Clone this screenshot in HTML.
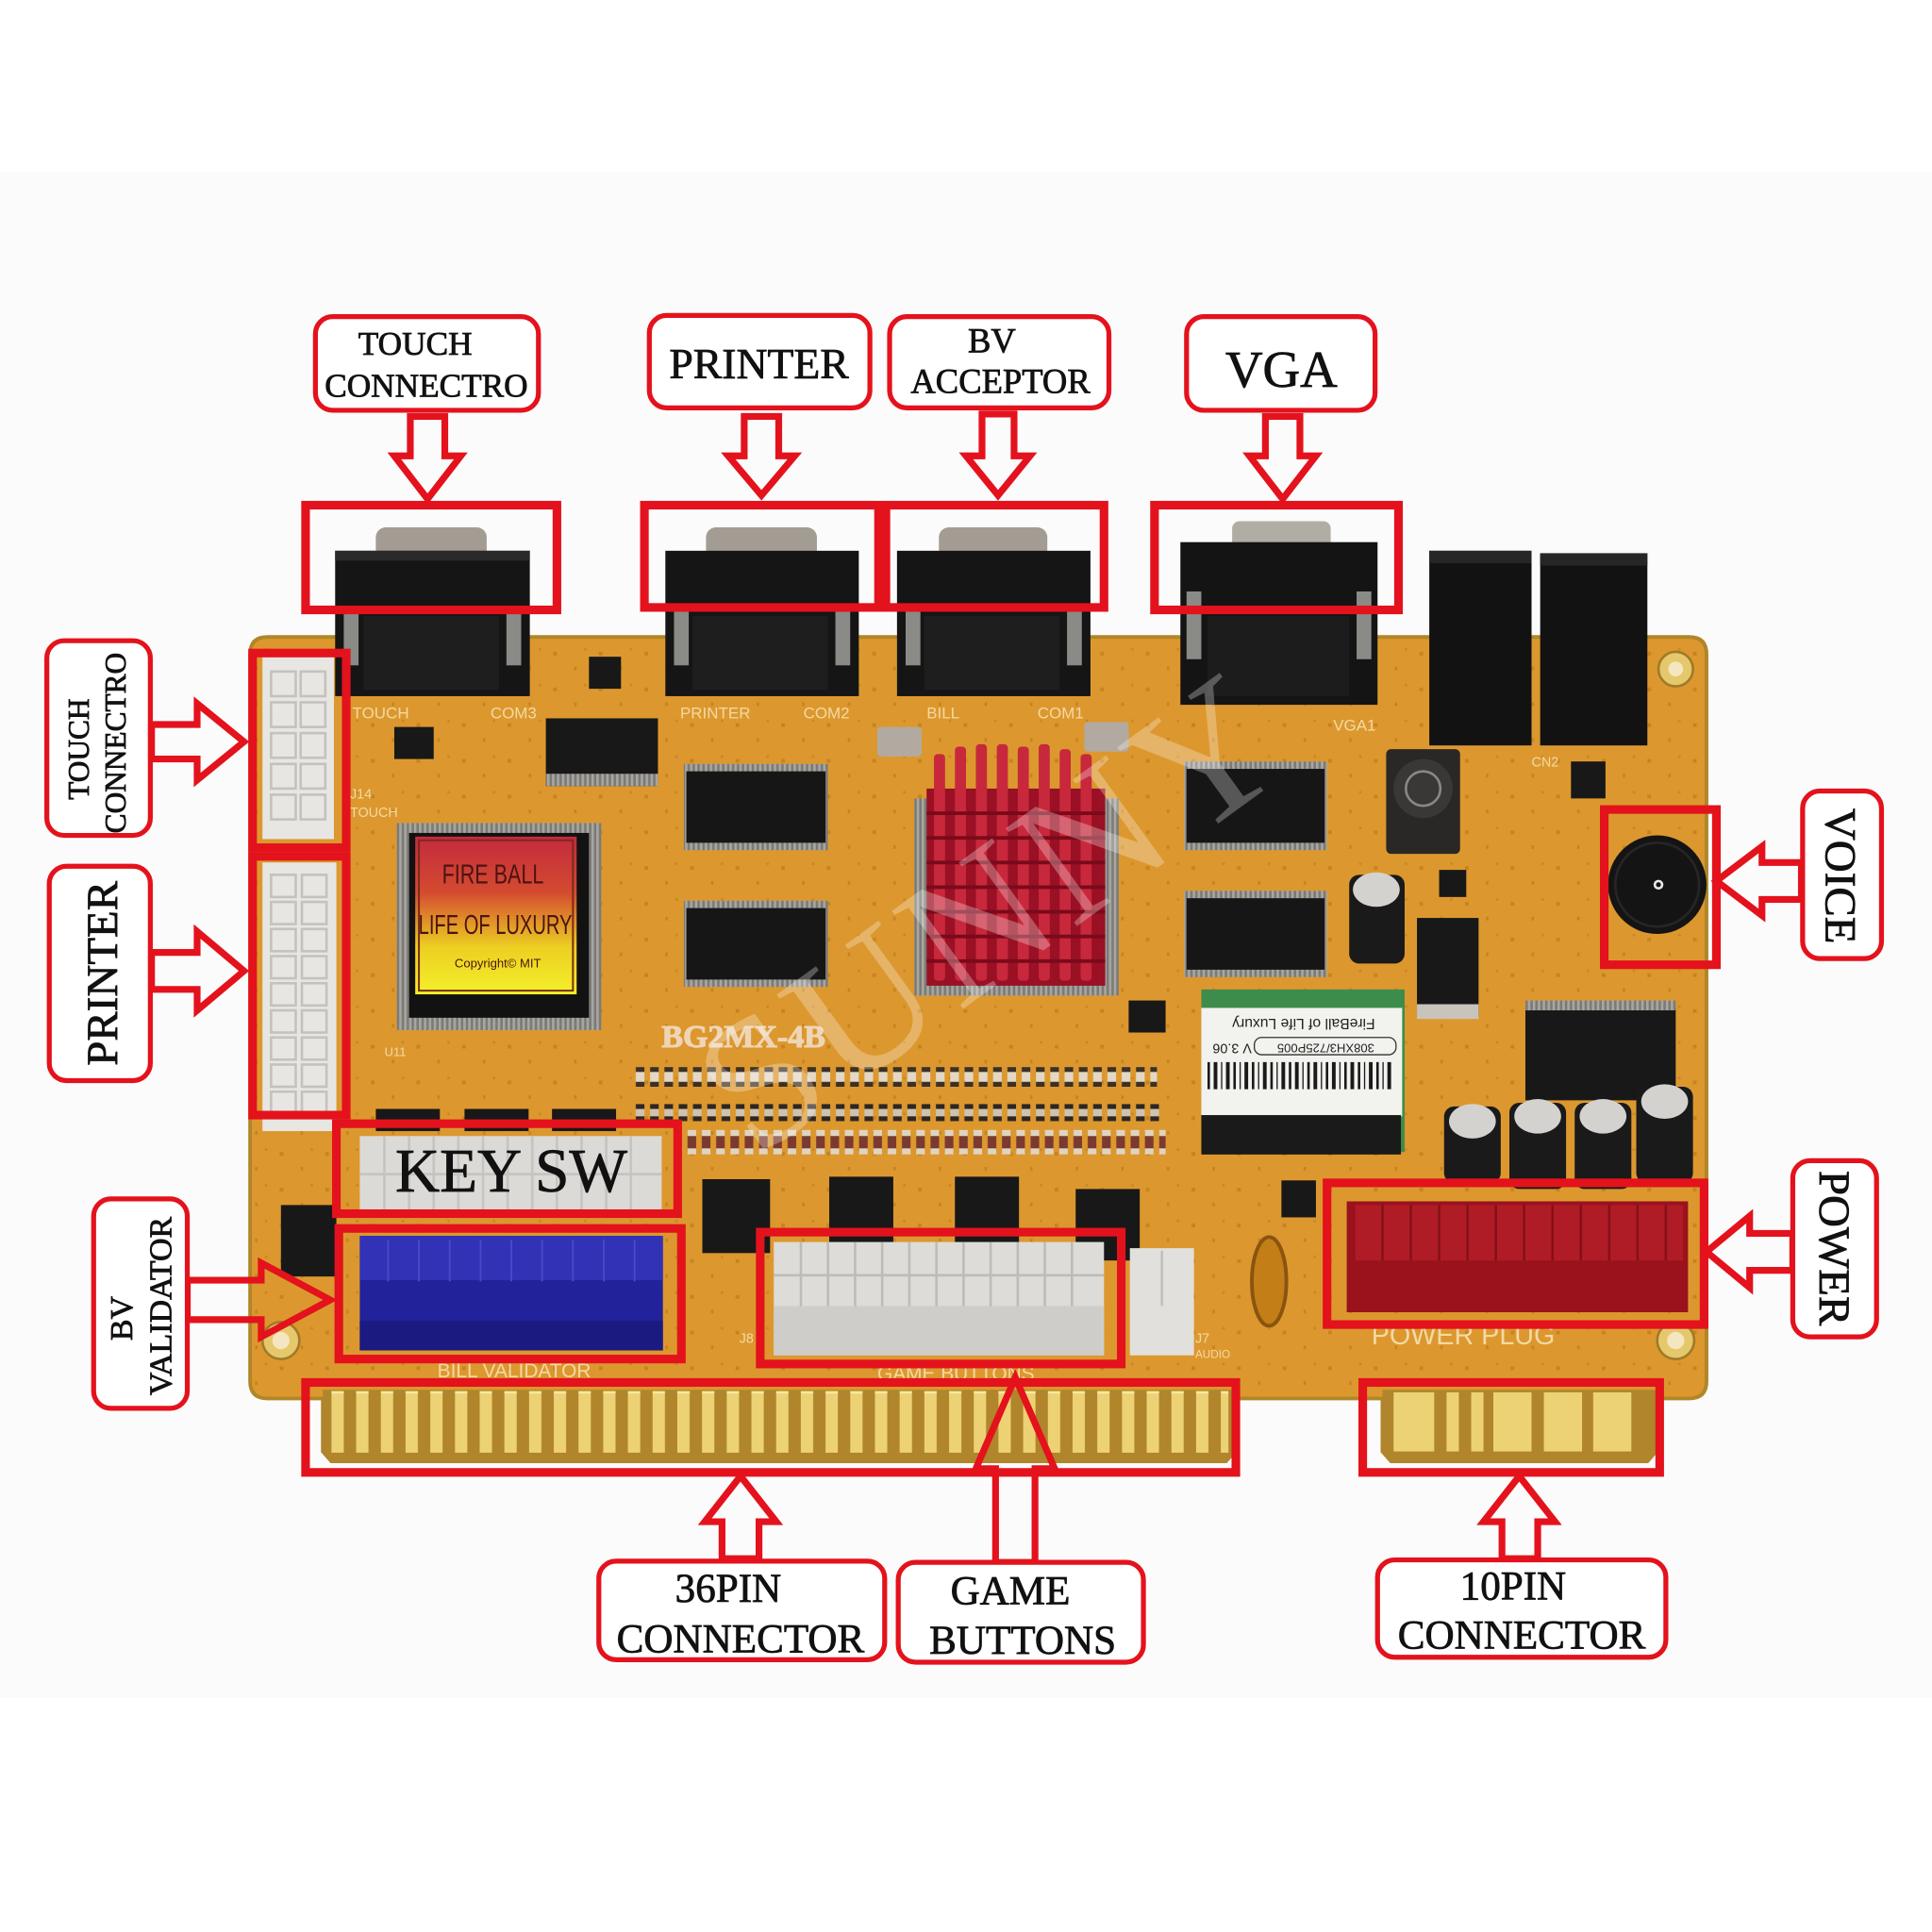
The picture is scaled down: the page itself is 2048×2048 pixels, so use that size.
<!DOCTYPE html>
<html><head><meta charset="utf-8"><style>
html,body{margin:0;padding:0;background:#fff;}
svg{display:block;}
</style></head><body>
<svg xmlns="http://www.w3.org/2000/svg" width="2048" height="2048" viewBox="0 0 1568 1568" font-family="'Liberation Serif', serif">
<defs>
<linearGradient id="lbl" x1="0" y1="0" x2="0" y2="1">
<stop offset="0" stop-color="#c42a3e"/><stop offset="0.35" stop-color="#d44a30"/><stop offset="0.7" stop-color="#eccf22"/><stop offset="1" stop-color="#f4f02a"/>
</linearGradient>
<pattern id="fing" x="266" y="1129" width="20.05" height="60" patternUnits="userSpaceOnUse">
<rect x="3" y="0" width="10" height="50" fill="#ecd274"/><rect x="3" y="0" width="10" height="2" fill="#f8e8a0"/>
</pattern>
<pattern id="res1" x="514" y="866" width="11.6" height="40" patternUnits="userSpaceOnUse">
<rect x="2" y="0" width="7" height="16" rx="2" fill="#e4d8c4"/><rect x="2" y="0" width="7" height="4" fill="#3c3026"/><rect x="2" y="12" width="7" height="4" fill="#3c3026"/>
</pattern>
<pattern id="res2" x="514" y="896" width="11.6" height="40" patternUnits="userSpaceOnUse">
<rect x="2" y="0" width="7" height="14" rx="2" fill="#cfc3b0"/><rect x="2" y="0" width="7" height="4" fill="#2e2620"/><rect x="2" y="10" width="7" height="4" fill="#2e2620"/>
</pattern>
<pattern id="res3" x="556" y="917" width="11.6" height="40" patternUnits="userSpaceOnUse">
<rect x="2" y="0" width="7" height="20" rx="2" fill="#7a3a30"/><rect x="2" y="0" width="7" height="5" fill="#e0d4c0"/><rect x="2" y="15" width="7" height="5" fill="#e0d4c0"/>
</pattern>
<pattern id="pins" x="0" y="0" width="4" height="4" patternUnits="userSpaceOnUse">
<rect width="4" height="4" fill="#7c7a76"/><rect width="2" height="4" fill="#a8a6a0"/>
</pattern>
<pattern id="specks" x="0" y="0" width="37" height="29" patternUnits="userSpaceOnUse">
<rect x="5" y="7" width="3" height="3" fill="#b87418" opacity="0.6"/><rect x="22" y="19" width="2" height="3" fill="#b87418" opacity="0.6"/><rect x="30" y="4" width="2" height="2" fill="#b87418" opacity="0.5"/>
</pattern>
</defs>

<rect x="0" y="0" width="1568" height="1568" fill="#ffffff"/>
<rect x="0" y="140" width="1568" height="1238" fill="#fbfbfb"/>

<path d="M217 517 H1371 Q1385 517 1385 531 V1121 Q1385 1135 1371 1135 H1344 V1178 L1337 1186 H1129 L1122 1178 V1135 H1002 V1178 L995 1186 H269 L262 1178 V1135 H217 Q203 1135 203 1121 V531 Q203 517 217 517 Z" fill="#dc982e" stroke="#b08628" stroke-width="3"/>
<rect x="205" y="519" width="1178" height="614" fill="url(#specks)"/>
<path d="M262 1128 H1002 V1178 L995 1186 H269 L262 1178 Z" fill="#b0852c"/>
<rect x="262" y="1128" width="735" height="56" fill="url(#fing)"/>
<path d="M1122 1128 H1344 V1178 L1337 1186 H1129 L1122 1178 Z" fill="#b0852c"/>
<rect x="1131" y="1130" width="33" height="48" fill="#ecd274"/>
<rect x="1174" y="1130" width="10" height="48" fill="#ecd274"/>
<rect x="1194" y="1130" width="10" height="48" fill="#ecd274"/>
<rect x="1212" y="1130" width="31" height="48" fill="#ecd274"/>
<rect x="1253" y="1130" width="31" height="48" fill="#ecd274"/>
<rect x="1293" y="1130" width="31" height="48" fill="#ecd274"/>

<circle cx="1360" cy="543" r="14" fill="#e6c86c" stroke="#a07a28" stroke-width="2"/><circle cx="1360" cy="543" r="6" fill="#f4e6c0"/>
<circle cx="1360" cy="1088" r="15" fill="#e6c86c" stroke="#a07a28" stroke-width="2"/><circle cx="1360" cy="1088" r="7" fill="#f4e6c0"/>
<circle cx="228" cy="1088" r="15" fill="#e6c86c" stroke="#a07a28" stroke-width="2"/><circle cx="228" cy="1088" r="7" fill="#f4e6c0"/>

<g>
<rect x="305" y="428" width="90" height="26" rx="8" fill="#a29c92"/>
<rect x="272" y="447" width="158" height="118" fill="#151515"/>
<rect x="272" y="447" width="158" height="8" fill="#2a2a2a"/>
<rect x="279" y="495" width="12" height="45" fill="#8a8a86"/><rect x="411" y="495" width="12" height="45" fill="#8a8a86"/>
<rect x="295" y="500" width="110" height="60" fill="#1e1e1e"/>

<rect x="573" y="428" width="90" height="26" rx="8" fill="#a29c92"/>
<rect x="540" y="447" width="157" height="118" fill="#151515"/>
<rect x="547" y="495" width="12" height="45" fill="#8a8a86"/><rect x="678" y="495" width="12" height="45" fill="#8a8a86"/>
<rect x="562" y="500" width="110" height="60" fill="#1e1e1e"/>

<rect x="762" y="428" width="88" height="26" rx="8" fill="#a29c92"/>
<rect x="728" y="447" width="157" height="118" fill="#151515"/>
<rect x="735" y="495" width="12" height="45" fill="#8a8a86"/><rect x="866" y="495" width="12" height="45" fill="#8a8a86"/>
<rect x="750" y="500" width="110" height="60" fill="#1e1e1e"/>

<rect x="1000" y="423" width="80" height="26" rx="6" fill="#b2ada4"/>
<rect x="958" y="440" width="160" height="132" fill="#141414"/>
<rect x="963" y="480" width="12" height="55" fill="#8a8a86"/><rect x="1101" y="480" width="12" height="55" fill="#8a8a86"/>
<rect x="980" y="500" width="115" height="65" fill="#1c1c1c"/>
</g>

<rect x="1160" y="447" width="83" height="158" fill="#121212"/>
<rect x="1160" y="447" width="83" height="10" fill="#262626"/>
<rect x="1250" y="449" width="87" height="156" fill="#121212"/>
<rect x="1250" y="449" width="87" height="10" fill="#262626"/>

<g fill="#f3d9a4" font-family="'Liberation Sans', sans-serif" font-size="13">
<text x="286" y="583">TOUCH</text><text x="398" y="583">COM3</text>
<text x="552" y="583">PRINTER</text><text x="652" y="583">COM2</text>
<text x="752" y="583">BILL</text><text x="842" y="583">COM1</text>
<text x="1082" y="593">VGA1</text>
<text x="284" y="648" font-size="11">J14</text><text x="284" y="663" font-size="11">TOUCH</text>
<text x="312" y="857" font-size="10">U11</text>
<text x="1243" y="622" font-size="11">CN2</text>
<text x="600" y="1090" font-size="11">J8</text>
<text x="970" y="1090" font-size="11">J7</text><text x="970" y="1102" font-size="9">AUDIO</text>
<text x="1113" y="1091" font-size="22">POWER  PLUG</text>
<text x="355" y="1118" font-size="16">BILL  VALIDATOR</text>
<text x="712" y="1120" font-size="16">GAME  BUTTONS</text>
</g>

<rect x="213" y="533" width="58" height="148" fill="#e8e6e2"/>
<g stroke="#c4c2bd" stroke-width="2" fill="none">
<rect x="220" y="545" width="20" height="20"/><rect x="244" y="545" width="20" height="20"/>
<rect x="220" y="570" width="20" height="20"/><rect x="244" y="570" width="20" height="20"/>
<rect x="220" y="595" width="20" height="20"/><rect x="244" y="595" width="20" height="20"/>
<rect x="220" y="620" width="20" height="20"/><rect x="244" y="620" width="20" height="20"/>
<rect x="220" y="645" width="20" height="20"/><rect x="244" y="645" width="20" height="20"/>
</g>
<rect x="213" y="700" width="60" height="218" fill="#e8e6e2"/>
<g stroke="#c4c2bd" stroke-width="2" fill="none">
<rect x="220" y="710" width="20" height="18"/><rect x="245" y="710" width="20" height="18"/>
<rect x="220" y="732" width="20" height="18"/><rect x="245" y="732" width="20" height="18"/>
<rect x="220" y="754" width="20" height="18"/><rect x="245" y="754" width="20" height="18"/>
<rect x="220" y="776" width="20" height="18"/><rect x="245" y="776" width="20" height="18"/>
<rect x="220" y="798" width="20" height="18"/><rect x="245" y="798" width="20" height="18"/>
<rect x="220" y="820" width="20" height="18"/><rect x="245" y="820" width="20" height="18"/>
<rect x="220" y="842" width="20" height="18"/><rect x="245" y="842" width="20" height="18"/>
<rect x="220" y="864" width="20" height="18"/><rect x="245" y="864" width="20" height="18"/>
<rect x="220" y="886" width="20" height="18"/><rect x="245" y="886" width="20" height="18"/>
</g>

<g fill="#181818">
<rect x="443" y="583" width="91" height="55"/>
<rect x="320" y="590" width="32" height="26"/>
<rect x="478" y="533" width="26" height="26"/>
<rect x="228" y="978" width="45" height="58"/>
<rect x="1275" y="618" width="28" height="30"/>
<rect x="1040" y="958" width="28" height="30"/>
<rect x="1168" y="706" width="22" height="22"/>
<rect x="916" y="812" width="30" height="26"/>
<rect x="1150" y="745" width="50" height="80"/>
<rect x="1238" y="818" width="122" height="75"/>
<rect x="570" y="957" width="55" height="60"/>
<rect x="673" y="955" width="52" height="60"/>
<rect x="775" y="955" width="52" height="60"/>
<rect x="873" y="965" width="52" height="58"/>
<rect x="305" y="900" width="52" height="18"/><rect x="377" y="900" width="52" height="18"/><rect x="448" y="900" width="52" height="18"/>
</g>
<rect x="443" y="628" width="91" height="10" fill="url(#pins)"/>
<rect x="1238" y="812" width="122" height="8" fill="url(#pins)"/>
<rect x="1150" y="815" width="50" height="12" fill="#c8c4bc"/>

<g>
<rect x="555" y="620" width="117" height="70" fill="url(#pins)"/>
<rect x="557" y="626" width="113" height="58" fill="#161616"/>
<rect x="555" y="731" width="117" height="70" fill="url(#pins)"/>
<rect x="557" y="737" width="113" height="58" fill="#161616"/>
<rect x="961" y="618" width="116" height="72" fill="url(#pins)"/>
<rect x="963" y="624" width="112" height="60" fill="#161616"/>
<rect x="961" y="723" width="116" height="70" fill="url(#pins)"/>
<rect x="963" y="729" width="112" height="58" fill="#161616"/>
</g>
<rect x="712" y="590" width="36" height="24" rx="3" fill="#b2aaa0"/>
<rect x="880" y="586" width="36" height="24" rx="3" fill="#b2aaa0"/>

<rect x="742" y="648" width="166" height="160" fill="url(#pins)"/>
<rect x="752" y="640" width="145" height="160" fill="#9a1024"/>
<g fill="#c8283c">
<rect x="758" y="612" width="9" height="184" rx="3"/><rect x="775" y="606" width="9" height="190" rx="3"/>
<rect x="792" y="604" width="9" height="192" rx="3"/><rect x="809" y="604" width="9" height="192" rx="3"/>
<rect x="826" y="606" width="9" height="190" rx="3"/><rect x="843" y="604" width="9" height="192" rx="3"/>
<rect x="860" y="608" width="9" height="188" rx="3"/><rect x="877" y="612" width="9" height="184" rx="3"/>
</g>
<g stroke="#7a0a1a" stroke-width="3">
<line x1="752" y1="660" x2="897" y2="660"/><line x1="752" y1="680" x2="897" y2="680"/><line x1="752" y1="700" x2="897" y2="700"/>
<line x1="752" y1="720" x2="897" y2="720"/><line x1="752" y1="740" x2="897" y2="740"/><line x1="752" y1="760" x2="897" y2="760"/><line x1="752" y1="780" x2="897" y2="780"/>
</g>

<rect x="322" y="668" width="166" height="168" fill="url(#pins)"/>
<rect x="332" y="676" width="146" height="150" fill="#121212"/>
<rect x="337" y="679" width="131" height="128" fill="url(#lbl)"/>
<rect x="340" y="682" width="125" height="122" fill="none" stroke="#7a2a1a" stroke-width="1.5"/>
<g font-family="'Liberation Sans', sans-serif" fill="#4a1410" text-anchor="middle">
<text x="400" y="717" font-size="22" transform="translate(400 0) scale(0.75 1) translate(-400 0)">FIRE BALL</text>
<text x="402" y="758" font-size="22" transform="translate(402 0) scale(0.7 1) translate(-402 0)">LIFE OF LUXURY</text>
<text x="404" y="785" font-size="10">Copyright© MIT</text>
</g>

<rect x="514" y="866" width="425" height="16" fill="url(#res1)"/>
<rect x="514" y="896" width="430" height="14" fill="url(#res2)"/>
<rect x="556" y="917" width="390" height="20" fill="url(#res3)"/>
<text x="537" y="850" font-size="26" font-weight="bold" fill="#f2dcc6" stroke="#f2dcc6" stroke-width="0.8" opacity="0.9">BG2MX-4B</text>

<rect x="975" y="803" width="165" height="132" fill="#3e8c4c"/>
<rect x="975" y="818" width="163" height="88" fill="#f2f2ee"/>
<rect x="975" y="905" width="162" height="32" fill="#1a1a1a"/>
<g font-family="'Liberation Sans', sans-serif" fill="#222">
<text x="1058" y="835" font-size="12" text-anchor="middle" transform="rotate(180 1058 831)">FireBall of Life Luxury</text>
<text x="1000" y="855" font-size="11" text-anchor="middle" transform="rotate(180 1000 851)">V 3.06</text>
<rect x="1018" y="842" width="115" height="14" rx="6" fill="none" stroke="#333" stroke-width="1"/>
<text x="1076" y="855" font-size="10" text-anchor="middle" transform="rotate(180 1076 851)">308XH3/725P005</text>
</g>
<g fill="#1a1a1a">
<rect x="980" y="862" width="2" height="22"/><rect x="985" y="862" width="3" height="22"/><rect x="991" y="862" width="1" height="22"/><rect x="995" y="862" width="3" height="22"/>
<rect x="1001" y="862" width="2" height="22"/><rect x="1006" y="862" width="1" height="22"/><rect x="1010" y="862" width="3" height="22"/><rect x="1016" y="862" width="2" height="22"/>
<rect x="1021" y="862" width="1" height="22"/><rect x="1025" y="862" width="3" height="22"/><rect x="1031" y="862" width="2" height="22"/><rect x="1036" y="862" width="1" height="22"/>
<rect x="1040" y="862" width="3" height="22"/><rect x="1046" y="862" width="2" height="22"/><rect x="1051" y="862" width="3" height="22"/><rect x="1057" y="862" width="1" height="22"/>
<rect x="1061" y="862" width="2" height="22"/><rect x="1066" y="862" width="3" height="22"/><rect x="1072" y="862" width="1" height="22"/><rect x="1076" y="862" width="2" height="22"/>
<rect x="1081" y="862" width="3" height="22"/><rect x="1087" y="862" width="1" height="22"/><rect x="1091" y="862" width="2" height="22"/><rect x="1096" y="862" width="3" height="22"/>
<rect x="1102" y="862" width="2" height="22"/><rect x="1107" y="862" width="1" height="22"/><rect x="1111" y="862" width="3" height="22"/><rect x="1117" y="862" width="2" height="22"/>
<rect x="1122" y="862" width="1" height="22"/><rect x="1126" y="862" width="3" height="22"/>
</g>

<rect x="1125" y="608" width="60" height="85" rx="4" fill="#2a2826"/>
<circle cx="1155" cy="640" r="24" fill="#3a3836"/><circle cx="1155" cy="640" r="14" fill="none" stroke="#8a8884" stroke-width="2"/>

<g>
<rect x="1095" y="710" width="45" height="72" rx="8" fill="#1a1a1a"/><ellipse cx="1117" cy="722" rx="19" ry="14" fill="#d4d2ce"/>
<rect x="1172" y="898" width="46" height="62" rx="8" fill="#1a1a1a"/><ellipse cx="1195" cy="910" rx="19" ry="14" fill="#d4d2ce"/>
<rect x="1225" y="895" width="46" height="70" rx="8" fill="#1a1a1a"/><ellipse cx="1248" cy="906" rx="19" ry="14" fill="#d4d2ce"/>
<rect x="1278" y="895" width="46" height="70" rx="8" fill="#1a1a1a"/><ellipse cx="1301" cy="906" rx="19" ry="14" fill="#d4d2ce"/>
<rect x="1328" y="882" width="46" height="78" rx="8" fill="#1a1a1a"/><ellipse cx="1351" cy="894" rx="19" ry="14" fill="#d4d2ce"/>
</g>

<circle cx="1345" cy="718" r="40" fill="#141414"/>
<circle cx="1345" cy="718" r="34" fill="none" stroke="#262626" stroke-width="2"/>
<circle cx="1346" cy="718" r="4" fill="#e8e8e8"/><circle cx="1346" cy="718" r="2" fill="#141414"/>

<ellipse cx="1030" cy="1040" rx="14" ry="36" fill="#c47e18" stroke="#8a5410" stroke-width="3"/>

<rect x="292" y="922" width="245" height="63" fill="#dcdad6"/>
<g stroke="#c6c4c0" stroke-width="2" fill="none">
<line x1="292" y1="953" x2="537" y2="953"/>
<line x1="312" y1="922" x2="312" y2="985"/><line x1="332" y1="922" x2="332" y2="985"/><line x1="352" y1="922" x2="352" y2="985"/>
<line x1="372" y1="922" x2="372" y2="985"/><line x1="392" y1="922" x2="392" y2="985"/><line x1="412" y1="922" x2="412" y2="985"/>
<line x1="432" y1="922" x2="432" y2="985"/><line x1="452" y1="922" x2="452" y2="985"/><line x1="472" y1="922" x2="472" y2="985"/>
<line x1="492" y1="922" x2="492" y2="985"/><line x1="512" y1="922" x2="512" y2="985"/>
</g>

<rect x="292" y="1003" width="246" height="93" fill="#22229a"/>
<rect x="292" y="1003" width="246" height="36" fill="#3232b6"/>
<rect x="292" y="1072" width="246" height="24" fill="#1a1a80"/>
<g stroke="#4848c8" stroke-width="1.5">
<line x1="315" y1="1006" x2="315" y2="1040"/><line x1="340" y1="1006" x2="340" y2="1040"/><line x1="365" y1="1006" x2="365" y2="1040"/>
<line x1="390" y1="1006" x2="390" y2="1040"/><line x1="415" y1="1006" x2="415" y2="1040"/><line x1="440" y1="1006" x2="440" y2="1040"/>
<line x1="465" y1="1006" x2="465" y2="1040"/><line x1="490" y1="1006" x2="490" y2="1040"/><line x1="515" y1="1006" x2="515" y2="1040"/>
</g>

<rect x="628" y="1008" width="268" height="92" fill="#dedcd8"/>
<rect x="628" y="1060" width="268" height="40" fill="#cfcdc9"/>
<g stroke="#bebcb8" stroke-width="2">
<line x1="628" y1="1035" x2="896" y2="1035"/>
<line x1="650" y1="1008" x2="650" y2="1060"/><line x1="672" y1="1008" x2="672" y2="1060"/><line x1="694" y1="1008" x2="694" y2="1060"/>
<line x1="716" y1="1008" x2="716" y2="1060"/><line x1="738" y1="1008" x2="738" y2="1060"/><line x1="760" y1="1008" x2="760" y2="1060"/>
<line x1="782" y1="1008" x2="782" y2="1060"/><line x1="804" y1="1008" x2="804" y2="1060"/><line x1="826" y1="1008" x2="826" y2="1060"/>
<line x1="848" y1="1008" x2="848" y2="1060"/><line x1="870" y1="1008" x2="870" y2="1060"/>
</g>
<rect x="917" y="1013" width="52" height="87" fill="#e2e0dc"/>
<line x1="943" y1="1015" x2="943" y2="1060" stroke="#c2c0bc" stroke-width="2"/>

<rect x="1093" y="975" width="277" height="90" fill="#9a121c"/>
<rect x="1100" y="978" width="266" height="45" fill="#b01c26"/>
<g stroke="#861018" stroke-width="2">
<line x1="1122" y1="978" x2="1122" y2="1023"/><line x1="1145" y1="978" x2="1145" y2="1023"/><line x1="1168" y1="978" x2="1168" y2="1023"/>
<line x1="1191" y1="978" x2="1191" y2="1023"/><line x1="1214" y1="978" x2="1214" y2="1023"/><line x1="1237" y1="978" x2="1237" y2="1023"/>
<line x1="1260" y1="978" x2="1260" y2="1023"/><line x1="1283" y1="978" x2="1283" y2="1023"/><line x1="1306" y1="978" x2="1306" y2="1023"/>
<line x1="1329" y1="978" x2="1329" y2="1023"/><line x1="1352" y1="978" x2="1352" y2="1023"/>
</g>

<text x="805" y="790" font-size="150" fill="#ffffff" opacity="0.28" text-anchor="middle" letter-spacing="6" transform="rotate(-36 805 740)">SUNNY</text>

<g fill="none" stroke="#e4121c" stroke-width="7">
<rect x="248" y="410" width="204" height="85"/>
<rect x="523" y="410" width="190" height="83"/>
<rect x="719" y="410" width="177" height="83"/>
<rect x="937" y="410" width="198" height="85"/>
<rect x="205" y="530" width="76" height="158"/>
<rect x="205" y="695" width="76" height="210"/>
<rect x="273" y="912" width="277" height="73"/>
<rect x="275" y="997" width="278" height="106"/>
<rect x="617" y="1000" width="293" height="107"/>
<rect x="248" y="1122" width="755" height="73"/>
<rect x="1106" y="1122" width="241" height="73"/>
<rect x="1077" y="960" width="306" height="115"/>
<rect x="1302" y="657" width="91" height="126"/>
</g>

<g fill="none" stroke="#e4121c" stroke-width="5.5" stroke-linejoin="miter">
<polygon points="333,338 361,338 361,370 374,370 347,405 320,370 333,370"/>
<polygon points="604,338 632,338 632,370 645,370 618,402 591,370 604,370"/>
<polygon points="797,336 823,336 823,370 836,370 810,402 784,370 797,370"/>
<polygon points="1027,338 1055,338 1055,370 1068,370 1041,405 1014,370 1027,370"/>
<polygon points="123,588 160,588 160,571 198,602 160,633 160,616 123,616"/>
<polygon points="123,773 160,773 160,756 198,788 160,820 160,803 123,803"/>
<polygon points="152,1039 212,1039 212,1025 268,1055 212,1085 212,1071 152,1071"/>
<polygon points="1462,700 1430,700 1430,687 1393,715 1430,743 1430,730 1462,730"/>
<polygon points="1455,1001 1420,1001 1420,987 1385,1016 1420,1045 1420,1031 1455,1031"/>
<polygon points="586,1265 616,1265 616,1235 630,1235 601,1198 572,1235 586,1235"/>
<polygon points="808,1268 840,1268 840,1192 856,1192 824,1118 792,1192 808,1192"/>
<polygon points="1219,1265 1248,1265 1248,1235 1262,1235 1233,1198 1204,1235 1219,1235"/>
</g>

<g fill="#ffffff" stroke="#e4121c" stroke-width="4">
<rect x="256" y="257" width="181" height="76" rx="14"/>
<rect x="527" y="256" width="179" height="75" rx="14"/>
<rect x="722" y="257" width="178" height="74" rx="14"/>
<rect x="963" y="257" width="153" height="76" rx="14"/>
<rect x="38" y="520" width="84" height="158" rx="14"/>
<rect x="40" y="703" width="82" height="174" rx="14"/>
<rect x="76" y="973" width="76" height="170" rx="14"/>
<rect x="1463" y="642" width="64" height="136" rx="14"/>
<rect x="1455" y="942" width="68" height="143" rx="14"/>
<rect x="486" y="1267" width="232" height="80" rx="14"/>
<rect x="729" y="1268" width="199" height="81" rx="14"/>
<rect x="1118" y="1266" width="234" height="79" rx="14"/>
</g>

<g fill="#111" stroke="#111" stroke-width="0.6" text-anchor="middle">
<text x="337" y="288" font-size="27">TOUCH</text>
<text x="346" y="322" font-size="27">CONNECTRO</text>
<text x="616" y="307" font-size="35">PRINTER</text>
<text x="805" y="286" font-size="28">BV</text>
<text x="812" y="319" font-size="28">ACCEPTOR</text>
<text x="1040" y="314" font-size="42">VGA</text>
<text x="415" y="967" font-size="50">KEY SW</text>
<text x="591" y="1300" font-size="33">36PIN</text>
<text x="601" y="1341" font-size="33">CONNECTOR</text>
<text x="820" y="1302" font-size="33">GAME</text>
<text x="830" y="1342" font-size="33">BUTTONS</text>
<text x="1228" y="1298" font-size="33">10PIN</text>
<text x="1235" y="1338" font-size="33">CONNECTOR</text>
<text x="0" y="0" font-size="24" transform="translate(72 608) rotate(-90)">TOUCH</text>
<text x="0" y="0" font-size="24" transform="translate(102 603) rotate(-90)">CONNECTRO</text>
<text x="0" y="0" font-size="36" transform="translate(95 790) rotate(-90)">PRINTER</text>
<text x="0" y="0" font-size="26" transform="translate(107 1070) rotate(-90)">BV</text>
<text x="0" y="0" font-size="26" transform="translate(139 1060) rotate(-90)">VALIDATOR</text>
<text x="0" y="0" font-size="36" transform="translate(1482 711) rotate(90)">VOICE</text>
<text x="0" y="0" font-size="36" transform="translate(1477 1013) rotate(90)">POWER</text>
</g>
</svg>
</body></html>
